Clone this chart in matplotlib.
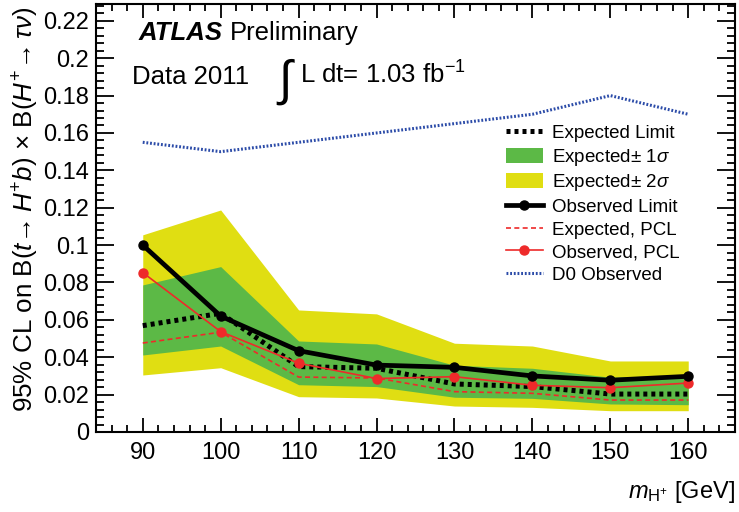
import matplotlib
matplotlib.use('Agg')
import matplotlib.pyplot as plt
from matplotlib.ticker import MultipleLocator, FuncFormatter
from matplotlib.patches import Patch
from matplotlib.lines import Line2D

plt.rcParams['font.family'] = ['Liberation Sans', 'DejaVu Sans']
plt.rcParams['mathtext.fontset'] = 'custom'
plt.rcParams['mathtext.rm'] = 'Liberation Sans'
plt.rcParams['mathtext.it'] = 'Liberation Sans:italic'
plt.rcParams['mathtext.bf'] = 'Liberation Sans:bold'

# charged Higgs mass points (GeV)
mass = [90, 100, 110, 120, 130, 140, 150, 160]

observed = [0.100, 0.062, 0.0435, 0.0358, 0.0346, 0.0300, 0.0277, 0.0298]
expected = [0.0569, 0.0635, 0.0350, 0.0341, 0.0257, 0.0243, 0.0203, 0.0203]
sig1_up = [0.0787, 0.0885, 0.0487, 0.0471, 0.0357, 0.0341, 0.0293, 0.0305]
sig1_dn = [0.0412, 0.0460, 0.0253, 0.0243, 0.0186, 0.0180, 0.0150, 0.0146]
sig2_up = [0.1055, 0.1188, 0.0653, 0.0632, 0.0475, 0.0460, 0.0380, 0.0380]
sig2_dn = [0.0305, 0.0344, 0.0189, 0.0182, 0.0139, 0.0132, 0.0114, 0.0114]
exp_pcl = [0.0476, 0.0534, 0.0294, 0.0289, 0.0216, 0.0207, 0.0171, 0.0171]
obs_pcl = [0.0853, 0.0537, 0.0368, 0.0286, 0.0296, 0.0250, 0.0237, 0.0262]
d0_obs = [0.155, 0.150, 0.155, 0.160, 0.165, 0.170, 0.180, 0.170]

green = '#5cb946'
yellow = '#e0de12'
red = '#ee2a2a'
blue = '#2b4ba8'

fig = plt.figure(figsize=(7.39, 5.12), dpi=100)
ax = fig.add_axes([96 / 739, 1 - 432 / 512, (735 - 96) / 739, (432 - 4) / 512])

ax.fill_between(mass, sig2_dn, sig2_up, color=yellow, lw=0)
ax.fill_between(mass, sig1_dn, sig1_up, color=green, lw=0)
ax.plot(mass, expected, color='black', lw=3.6, ls=(0, (0.8, 0.8)))
ax.plot(mass, exp_pcl, color=red, lw=1.2, ls=(0, (3, 2)))
ax.plot(mass, obs_pcl, color=red, lw=1.2, marker='o', ms=6.5)
ax.plot(mass, observed, color='black', lw=3.4, marker='o', ms=6.5)
ax.plot(mass, d0_obs, color=blue, lw=2.2, ls=(0, (0.6, 0.6)))

ax.set_xlim(84, 166)
ax.set_ylim(0, 0.229)
ax.xaxis.set_major_locator(MultipleLocator(10))
ax.xaxis.set_minor_locator(MultipleLocator(2))
ax.yaxis.set_major_locator(MultipleLocator(0.02))
ax.yaxis.set_minor_locator(MultipleLocator(0.004))
ax.yaxis.set_major_formatter(FuncFormatter(lambda v, p: f'{v:g}'))
ax.tick_params(which='both', direction='in', top=True, right=True, labelsize=17, width=1.3)
ax.tick_params(axis='y', which='major', length=13, pad=5)
ax.tick_params(axis='y', which='minor', length=6)
ax.tick_params(axis='x', which='major', length=10, pad=7)
ax.tick_params(axis='x', which='minor', length=5)
for s in ax.spines.values():
    s.set_linewidth(1.5)

fig.text(26 / 739, 1 - 7 / 512,
         r'95% CL on B($t\!\rightarrow H^{+}b$) $\times$ B($H^{+}\!\rightarrow \tau\nu$)',
         rotation=90, ha='center', va='top', fontsize=18.7)
fig.text(735 / 739, 1 - 498 / 512, r'$m_{\mathrm{H^{+}}}$ [GeV]',
         ha='right', va='baseline', fontsize=17)

fig.text(139 / 739, 1 - 40 / 512, 'ATLAS', fontsize=18.5, fontweight='bold',
         fontstyle='italic', va='baseline')
fig.text(230 / 739, 1 - 40 / 512, 'Preliminary', fontsize=18.5, va='baseline')
fig.text(132 / 739, 1 - 84 / 512, 'Data 2011', fontsize=18.5, va='baseline')
fig.text(286 / 739, 1 - 82 / 512, r'$\int$', fontsize=35, ha='center', va='center')
fig.text(300 / 739, 1 - 84 / 512, r'L dt= 1.03 fb$^{\mathrm{-1}}$', fontsize=18.5, va='baseline')

handles = [
    Line2D([], [], color='black', lw=3.6, ls=(0, (0.8, 0.8))),
    Patch(color=green, lw=0),
    Patch(color=yellow, lw=0),
    Line2D([], [], color='black', lw=3.4, marker='o', ms=6.5),
    Line2D([], [], color=red, lw=1.2, ls=(0, (3, 2))),
    Line2D([], [], color=red, lw=1.2, marker='o', ms=6.5),
    Line2D([], [], color=blue, lw=2.2, ls=(0, (0.6, 0.6))),
]
labels = ['Expected Limit', r'Expected$\pm$ 1$\sigma$', r'Expected$\pm$ 2$\sigma$',
          'Observed Limit', 'Expected, PCL', 'Observed, PCL', 'D0 Observed']
fig.legend(handles, labels, loc='upper left', bbox_to_anchor=(506 / 739, 1 - 124 / 512),
           frameon=False, fontsize=13.5, borderpad=0, borderaxespad=0,
           handlelength=1.95, handleheight=0.85, handletextpad=0.5, labelspacing=0.25)

fig.savefig('out.png', dpi=100)
